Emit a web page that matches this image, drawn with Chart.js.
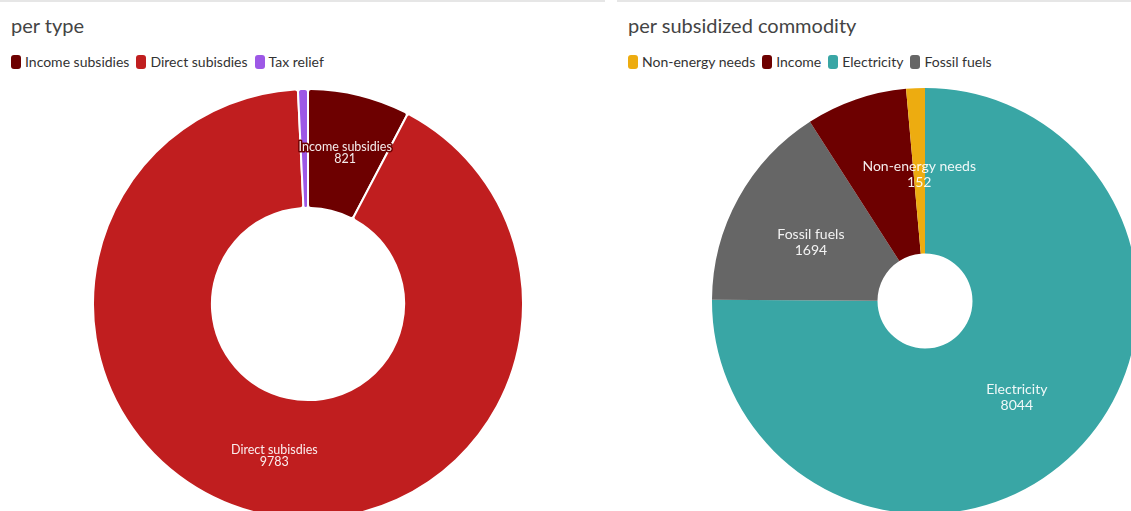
<!DOCTYPE html>
<html>
<head>
<meta charset="utf-8">
<script src="https://cdn.jsdelivr.net/npm/chart.js@4/dist/chart.umd.min.js"></script>
<style>
  html, body { margin: 0; padding: 0; background: #fff; overflow: hidden; width: 1131px; height: 511px; }
  body { position: relative; font-family: Lato, "Noto Sans", sans-serif; }
  .panel { position: absolute; top: 0; height: 511px; border-top: 2px solid #e6e6e6; overflow: hidden; }
  .title { position: absolute; left: 11px; top: 11px; font-size: 20px; color: #444; white-space: nowrap; }
  .legend { position: absolute; left: 11px; top: 51px; font-size: 14px; color: #333; white-space: nowrap; display: flex; }
  .legend span.item { display: inline-flex; align-items: center; margin-right: 7px; }
  .legend i { display: inline-block; width: 10px; height: 14px; border-radius: 3px; margin-right: 4px; }
  canvas { position: absolute; }
</style>
</head>
<body>
<div class="panel" style="left:0; width:605px;">
  <div class="title">per type</div>
  <div class="legend" id="legType"></div>
  <canvas id="typeChart" style="left:0; top:86px;"></canvas>
</div>
<div class="panel" style="left:617px; width:514px;">
  <div class="title">per subsidized commodity</div>
  <div class="legend" id="legCom"></div>
</div>
<canvas id="comChart" style="left:615px; top:88px;"></canvas>
<script>
// per type
const typeLabels = ['Income subsidies', 'Direct subisdies', 'Tax relief'];
const typeValues = [821, 9783, 80];
const typeColors = ['#6d0000', '#c01e1f', '#9d58e6'];

// per subsidized commodity (drawn clockwise from the top)
const comLabels = ['Electricity', 'Fossil fuels', 'Income', 'Non-energy needs'];
const comValues = [8044, 1694, 821, 152];
const comColors = ['#39a6a5', '#666666', '#6d0000', '#edac10'];
const comLegendOrder = ['Non-energy needs', 'Income', 'Electricity', 'Fossil fuels'];

function buildLegend(id, labels, colors) {
  const el = document.getElementById(id);
  labels.forEach((l, i) => {
    const s = document.createElement('span');
    s.className = 'item';
    s.innerHTML = '<i style="background:' + colors[i] + '"></i>' + l;
    el.appendChild(s);
  });
}
buildLegend('legType', typeLabels, typeColors);
buildLegend('legCom', comLegendOrder, comLegendOrder.map(l => comColors[comLabels.indexOf(l)]));

// label inside each slice: name + value (overlapping ones are hidden)
const sliceLabels = {
  id: 'sliceLabels',
  afterDatasetsDraw(chart, args, opts) {
    const ctx = chart.ctx;
    const ds = chart.data.datasets[0];
    const meta = chart.getDatasetMeta(0);
    ctx.save();
    ctx.font = opts.size + 'px Lato, "Noto Sans", sans-serif';
    ctx.textAlign = 'center';
    ctx.textBaseline = 'middle';
    ctx.lineJoin = 'round';
    meta.data.forEach((arc, i) => {
      if (ds.data[i] < 100 || (opts.hide || []).includes(chart.data.labels[i])) return;
      const p = arc.tooltipPosition();
      const lines = [chart.data.labels[i], String(ds.data[i])];
      lines.forEach((t, k) => {
        const y = p.y + opts.dy + (k - 0.5) * opts.lineHeight;
        if (opts.stroke) {
          ctx.strokeStyle = ds.backgroundColor[i];
          ctx.lineWidth = 3;
          ctx.strokeText(t, p.x, y);
        }
        ctx.fillStyle = 'rgba(255,255,255,0.92)';
        ctx.fillText(t, p.x, y);
      });
    });
    ctx.restore();
  }
};

function makeChart(id, w, h, labels, values, colors, cutout, border, labelOpts) {
  const canvas = document.getElementById(id);
  canvas.width = w;
  canvas.height = h;
  canvas.style.width = w + 'px';
  canvas.style.height = h + 'px';
  return new Chart(canvas.getContext('2d'), {
    type: 'doughnut',
    data: {
      labels: labels,
      datasets: [{
        data: values,
        backgroundColor: colors,
        borderColor: '#fff',
        borderWidth: border,
        borderRadius: border ? 3 : 0
      }]
    },
    options: {
      responsive: false,
      animation: false,
      cutout: cutout,
      layout: { padding: 0 },
      plugins: {
        legend: { display: false },
        tooltip: { enabled: false },
        sliceLabels: labelOpts
      }
    },
    plugins: [sliceLabels]
  });
}

makeChart('typeChart', 616, 432, typeLabels, typeValues, typeColors, '44.7%', 2,
  { size: 12.5, lineHeight: 12, dy: 0, stroke: true });
makeChart('comChart', 620, 426, comLabels, comValues, comColors, '22.3%', 0,
  { size: 14, lineHeight: 16, dy: 4, stroke: false, hide: ['Income'] });
</script>
</body>
</html>
